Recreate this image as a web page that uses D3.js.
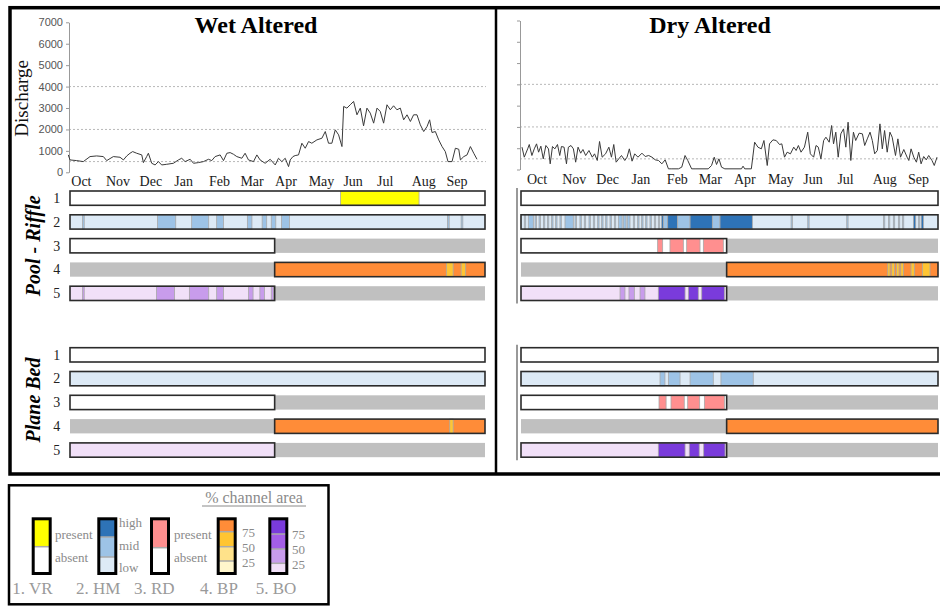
<!DOCTYPE html>
<html><head><meta charset="utf-8">
<script src="https://cdn.jsdelivr.net/npm/d3@7"></script>
<style>body{margin:0;background:#fff}svg{display:block}</style>
</head><body>
<svg id="c" width="940" height="606"></svg>
<script>
// ---------------- DATA ----------------
const months = ["Oct","Nov","Dec","Jan","Feb","Mar","Apr","May","Jun","Jul","Aug","Sep"];
const monthStart = [0,31,61,92,123,151,182,212,243,273,304,335];
const yTicks = [0,1000,2000,3000,4000,5000,6000,7000];
const gridValues = [500,2000,4000];
const panelTitles = ["Wet Altered","Dry Altered"];
const groupNames = ["Pool - Riffle","Plane Bed"];
const rowNumbers = ["1","2","3","4","5"];
const splitDay = 180;

// discharge: [day of water year, discharge]
const wetDischarge = [[0,811],[1.5,577],[7.5,546],[13.4,499],[19.4,733],[25.3,764],[31.3,733],[34.3,546],[40.2,733],[46.2,702],[49.2,577],[52.2,764],[55.1,889],[57.5,967],[61.1,889],[65.6,811],[67.1,452],[70,733],[71.5,889],[74.5,421],[77.5,343],[80.5,499],[83.4,343],[87.9,374],[93.9,421],[98.3,577],[101.3,655],[104.3,499],[108.8,608],[111.8,421],[116.2,452],[120.7,499],[125.2,608],[128.1,546],[131.1,733],[135.6,811],[138.6,546],[141.6,889],[144.5,920],[147.5,842],[150.5,733],[155,655],[157.9,889],[160.9,577],[165.4,499],[168.4,811],[171.3,577],[175.8,421],[180.3,608],[184.8,343],[187.7,655],[190.7,499],[193.7,655],[196.7,265],[198.2,577],[200.6,733],[202.6,780],[205.6,811],[208.6,1357],[211.6,1123],[214.6,1435],[217.5,1357],[222,1513],[226.5,1591],[229.5,1903],[232.4,1357],[235.4,1357],[238.4,1981],[241.4,1747],[244.4,1201],[245.9,3073],[248.8,2995],[251.8,3151],[254.8,3307],[257.8,2683],[260.8,2995],[263.7,2168],[266.7,2995],[269.7,2761],[272.7,2293],[275.7,2995],[278.6,2839],[281.6,2293],[284.6,3151],[287.6,2917],[290.5,3104],[293.5,2917],[296.5,2995],[299.5,2449],[302.5,2683],[305.5,2371],[308.4,2683],[311.4,2683],[314.4,2215],[317.4,1903],[320.4,2137],[322.7,2449],[324.8,1856],[327.8,1903],[330.8,1513],[333.8,1201],[336.7,967],[339.1,499],[342.7,499],[345.7,1123],[348.7,1076],[350.2,577],[353.2,733],[356.1,811],[359.1,1201],[362.1,889],[365,608]];

const dryDischarge = [[0,1049],[2,579],[5,970],[6.4,1174],[8.7,657],[10.8,970],[12.8,1205],[14.6,814],[16.6,1096],[18.7,501],[21,1127],[23.3,970],[24.8,266],[26.8,1080],[28.9,970],[31.2,1174],[33.2,657],[34.7,1080],[37,1049],[39.1,266],[40.8,1049],[43.1,1127],[45.2,970],[47.2,344],[49.3,1049],[51.6,767],[53.6,939],[56,657],[58.9,892],[61.8,579],[63.8,736],[66.2,423],[68.2,1315],[70.5,579],[73.5,736],[76.4,1049],[78.7,579],[80.7,1174],[82.8,344],[85.1,501],[87.5,657],[90.4,423],[92.4,579],[94.4,970],[96.8,391],[99.1,736],[102,579],[105.5,767],[108.4,610],[111.4,657],[114.3,579],[117.2,454],[120.1,423],[123,266],[125.9,454],[128.8,31],[131.8,31],[137.6,31],[140.5,110],[143.4,657],[145.8,423],[149.2,31],[152.2,31],[163.8,31],[166.7,188],[169.1,579],[171.1,235],[173.2,501],[175.5,110],[178.4,31],[193,31],[194.4,157],[195.9,31],[201.7,31],[204.6,1283],[207.5,1049],[210.5,970],[212.8,1362],[215.7,188],[217.7,1205],[220.7,1393],[223.6,1362],[226.5,1174],[228.5,1205],[230.9,579],[233.2,814],[236.1,736],[239,1049],[241.1,892],[243.1,1127],[245.4,814],[248.4,1049],[251.3,1753],[253.6,736],[256.5,579],[258.6,1127],[260.6,1049],[262.9,501],[265.3,1362],[267.3,1518],[270.2,1283],[272.3,2066],[274,1205],[276,1753],[278.1,579],[280.4,1675],[282.8,1909],[284.8,1049],[286.8,2222],[289.2,423],[291.5,1753],[293.5,1362],[296.5,1706],[299.4,1675],[301.4,1127],[303.7,1440],[306.1,1753],[308.1,1362],[310.2,736],[312.5,892],[314.8,2144],[316.9,970],[318.9,1831],[321.2,814],[323.6,1753],[325.6,1518],[328.5,657],[330.6,1440],[332.9,579],[335.8,939],[338.7,579],[340.2,423],[342.2,970],[344.6,579],[346.9,344],[348.9,814],[351,266],[353.3,610],[355.6,454],[357.7,657],[360.6,423],[362.6,188],[365,579]];

// bar segments: [startDay, endDay, level]
const wetPoolVR = [[238,307,1]];
const wetPoolHM = [[11,12.5,1],[77,93,1],[107,122,1],[129,135,1],[156,160,1],[169,173,1],[177,181,1],[186,193,1],[332,333.5,1],[344,345.5,1]];
const wetPoolRD = [];
const wetPoolBP = [[331,337,2],[344,348,2]];
const wetPoolBO = [[11,12.5,1],[76,92,1],[105,122,1],[129,135,1],[157,161,1],[167,171,1],[177,179,1]];
const wetPlaneVR = [];
const wetPlaneHM = [];
const wetPlaneRD = [];
const wetPlaneBP = [[334,337,2]];
const wetPlaneBO = [];
const dryPoolVR = [];
const dryPoolHM = [[2.9,4.1,1],[6.4,10.8,1],[12.3,13.5,1],[15.8,17,1],[19.6,20.8,1],[23.1,24.3,1],[26.8,28,1],[30.3,31.5,1],[34.1,35.3,1],[38.5,45.8,1],[47.3,48.5,1],[51.6,52.8,1],[55.4,56.6,1],[59.5,60.7,1],[63.3,64.5,1],[67.1,68.3,1],[70.6,71.8,1],[74.1,75.3,1],[77.9,79.1,1],[81.7,82.9,1],[85.2,88.5,1],[89.5,92,1],[93,95.4,1],[98.3,99.5,1],[102.1,103.3,1],[105.6,106.8,1],[109.1,110.3,1],[112.9,114.1,1],[116.7,117.9,1],[120.2,121.4,1],[123.1,124.6,2],[124.6,128.4,1],[128.4,137.1,2],[137.1,148,1],[148,167.5,2],[167.5,174.2,1],[174.2,202.5,2],[236.4,237.6,1],[251,252.2,1],[285.1,286.3,1],[317.2,318.4,1],[321.6,322.8,1],[325.9,327.1,1],[330.3,331.5,1],[333.8,335,1],[343.5,345.5,2],[347.8,349,1],[350.3,352.2,2]];
const dryPoolRD = [[119.6,124,1],[130.4,142.1,1],[145,156.7,1],[159.6,177.1,1]];
const dryPoolBP = [[321,323,2],[324.5,327,2],[328.6,330.9,2],[332.4,334.7,2],[341.4,344.3,2],[351.3,358,2]];
const dryPoolBO = [[86.7,91,1],[94.5,99.2,1],[104.2,108.5,1],[120.2,143.6,3],[146.5,155.2,3],[158.2,178,3]];
const dryPlaneVR = [];
const dryPlaneHM = [[121.7,126,1],[129,139.2,1],[148,168.3,1],[175,203.3,1]];
const dryPlaneRD = [[120.8,127,1],[131.3,142.9,1],[145.9,156.4,1],[160.5,178,1]];
const dryPlaneBP = [];
const dryPlaneBO = [[120.2,143.6,3],[147.3,156,3],[159.9,178.6,3]];

// variables: extent (days with data), base level, palette
const rowVars = ["VR","HM","RD","BP","BO"];
const rowExtents = [[0,365],[0,365],[0,splitDay],[splitDay,365],[0,splitDay]];
const rowBaseLevel = [0,0,0,3,0];
const palettes = [
  ["#ffffff","#ffff00"],
  ["#ddeaf6","#9dc3e6","#2e73b7"],
  ["#ffffff","#ff8f8f"],
  ["#fff6cc","#ffe28a","#ffc532","#ff8c38"],
  ["#f1e0f8","#c89cec","#a35ee6","#7a3bdb"]
];

// legend
const legendCodes = ["1. VR","2. HM","3. RD","4. BP","5. BO"];
const legendLabels = [["present","absent"],["high","mid","low"],["present","absent"],["75","50","25"],["75","50","25"]];
const legendHeader = "% channel area";

// ---------------- DRAW ----------------
const serif = "'Liberation Serif','Times New Roman',serif";
const sans = "'Liberation Sans',Arial,sans-serif";
const svg = d3.select("#c");

const panels = [
  {title:panelTitles[0], q:wetDischarge, groups:[[wetPoolVR,wetPoolHM,wetPoolRD,wetPoolBP,wetPoolBO],[wetPlaneVR,wetPlaneHM,wetPlaneRD,wetPlaneBP,wetPlaneBO]],
   hx:[68.3,477], hy:[172.3,22.3], axisX:69, gridEnd:486, bx:[70,485], monthY:186, monthOff:3, titleX:256, yLabels:true, rowNums:true, vline:false},
  {title:panelTitles[1], q:dryDischarge, groups:[[dryPoolVR,dryPoolHM,dryPoolRD,dryPoolBP,dryPoolBO],[dryPlaneVR,dryPlaneHM,dryPlaneRD,dryPlaneBP,dryPlaneBO]],
   hx:[522,937], hy:[169.5,20.5], axisX:520, gridEnd:938, bx:[521,938], monthY:184, monthOff:5, titleX:710, yLabels:false, rowNums:false, vline:true}
];
const groupTop = [191, 347.7];
const rowStep = 23.8, rowH = 14.3;

panels.forEach(p => {
  const x = d3.scaleLinear().domain([0,365]).range(p.hx);
  const y = d3.scaleLinear().domain([0,7000]).range(p.hy);
  const g = svg.append("g");
  g.selectAll("line.grid").data(gridValues).enter().append("line")
    .attr("x1",p.axisX).attr("x2",p.gridEnd).attr("y1",d=>y(d)).attr("y2",d=>y(d))
    .attr("stroke","#b8b8b8").attr("stroke-width",1).attr("stroke-dasharray","2,2");
  const ax = d3.axisLeft(y).tickValues(yTicks).tickSize(3).tickSizeOuter(0)
    .tickFormat(p.yLabels ? d3.format("d") : "");
  const ag = g.append("g").attr("transform",`translate(${p.axisX},0)`).call(ax);
  ag.select(".domain").attr("stroke","#999");
  ag.selectAll(".tick line").attr("stroke","#999");
  ag.selectAll(".tick text").attr("font-family",sans).attr("font-size",11).attr("fill","#555").attr("x",-6);
  g.append("path").datum(p.q).attr("fill","none").attr("stroke","#3a3a3a").attr("stroke-width",1)
    .attr("d", d3.line().x(d=>x(d[0])).y(d=>y(d[1])));
  g.selectAll("text.m").data(months).enter().append("text")
    .attr("x",(d,i)=>x(monthStart[i])+p.monthOff).attr("y",p.monthY)
    .attr("font-family",serif).attr("font-size",14).attr("fill","#1a1a1a").text(d=>d);
  g.append("text").attr("x",p.titleX).attr("y",33).attr("text-anchor","middle")
    .attr("font-family",serif).attr("font-weight","bold").attr("font-size",24).text(p.title);

  const bx = d3.scaleLinear().domain([0,365]).range(p.bx);
  p.groups.forEach((rows, gi) => {
    rows.forEach((segs, ri) => {
      const top = groupTop[gi] + ri*rowStep;
      const ext = rowExtents[ri];
      const pal = palettes[ri];
      const gaps = [];
      if (ext[0] > 0) gaps.push([0, ext[0]]);
      if (ext[1] < 365) gaps.push([ext[1], 365]);
      gaps.forEach(gp => g.append("rect").attr("x",bx(gp[0])).attr("y",top)
        .attr("width",bx(gp[1])-bx(gp[0])).attr("height",rowH).attr("fill","#c0c0c0"));
      g.append("rect").attr("x",bx(ext[0])).attr("y",top).attr("width",bx(ext[1])-bx(ext[0]))
        .attr("height",rowH).attr("fill",pal[rowBaseLevel[ri]]);
      g.selectAll(null).data(segs).enter().append("rect")
        .attr("x",d=>bx(d[0])).attr("y",top).attr("width",d=>bx(d[1])-bx(d[0])).attr("height",rowH)
        .attr("fill",d=>pal[d[2]]).attr("stroke","#a8a8a8").attr("stroke-width",0.8);
      g.append("rect").attr("x",bx(ext[0])).attr("y",top).attr("width",bx(ext[1])-bx(ext[0]))
        .attr("height",rowH).attr("fill","none").attr("stroke","#2b2b2b").attr("stroke-width",1.6);
      if (p.rowNums) {
        g.append("text").attr("x",56.7).attr("y",top+rowH/2+4.8).attr("text-anchor","middle")
          .attr("font-family",serif).attr("font-size",14).attr("fill","#222").text(rowNumbers[ri]);
      }
    });
    if (p.vline) {
      const t = groupTop[gi];
      g.append("line").attr("x1",517).attr("x2",517).attr("y1",t-3).attr("y2",t+4*rowStep+rowH+3)
        .attr("stroke","#555").attr("stroke-width",1.2);
    }
  });
});

[[245.8],[400]].forEach((c,i)=>{
  svg.append("text").attr("transform",`translate(40,${c[0]}) rotate(-90)`).attr("text-anchor","middle")
    .attr("font-family",serif).attr("font-style","italic").attr("font-weight","bold").attr("font-size",20)
    .text(groupNames[i]);
});
svg.append("text").attr("transform","translate(28,98.3) rotate(-90)").attr("text-anchor","middle")
  .attr("font-family",serif).attr("font-size",19).attr("fill","#111").text("Discharge");

svg.append("rect").attr("x",10).attr("y",7.7).attr("width",940).attr("height",466.3)
  .attr("fill","none").attr("stroke","#000").attr("stroke-width",3.5);
svg.append("line").attr("x1",496).attr("x2",496).attr("y1",8).attr("y2",474)
  .attr("stroke","#000").attr("stroke-width",2.5);

// ---------------- LEGEND ----------------
svg.append("rect").attr("x",9).attr("y",485.3).attr("width",319.5).attr("height",119)
  .attr("fill","none").attr("stroke","#000").attr("stroke-width",2.5);
svg.append("text").attr("x",254).attr("y",503).attr("text-anchor","middle")
  .attr("font-family",serif).attr("font-size",16).attr("fill","#8a8a8a").text(legendHeader);
svg.append("line").attr("x1",202).attr("x2",306).attr("y1",506).attr("y2",506).attr("stroke","#8a8a8a").attr("stroke-width",1);

const legX = [33.2, 98.8, 151.5, 218.2, 269.8];
const legW = 17;
const legTop = 518.8, legBot = 573.5;
const legBounds = [
  [legTop,546.7,legBot],
  [legTop,537,557,legBot],
  [legTop,547.7,legBot],
  [legTop,531.7,546.7,561,legBot],
  [legTop,534,549,563.3,legBot]
];
const legLabelX = [55, 119, 174, 242, 292];
const legLabelY = [[538.5,561.7],[526.7,550,572.3],[538.5,561.7],[536.7,552.3,567.3],[539,554,569]];
const legCodeX = [32.5, 98.3, 154.2, 219, 276];

legendCodes.forEach((code,i)=>{
  const pal = palettes[i];
  const b = legBounds[i];
  const nseg = b.length-1;
  for (let k=0;k<nseg;k++){
    const lvl = pal.length-1-k;
    svg.append("rect").attr("x",legX[i]).attr("y",b[k]).attr("width",legW).attr("height",b[k+1]-b[k])
      .attr("fill",pal[lvl]);
    if (k>0) svg.append("line").attr("x1",legX[i]).attr("x2",legX[i]+legW).attr("y1",b[k]).attr("y2",b[k])
      .attr("stroke","#aaa").attr("stroke-width",1.5);
  }
  svg.append("rect").attr("x",legX[i]).attr("y",legTop).attr("width",legW).attr("height",legBot-legTop)
    .attr("fill","none").attr("stroke","#000").attr("stroke-width",3);
  legendLabels[i].forEach((t,k)=>{
    svg.append("text").attr("x",legLabelX[i]).attr("y",legLabelY[i][k])
      .attr("font-family",serif).attr("font-size",13).attr("fill","#8a8a8a").text(t);
  });
  svg.append("text").attr("x",legCodeX[i]).attr("y",594).attr("text-anchor","middle")
    .attr("font-family",serif).attr("font-size",17).attr("fill","#9a9a9a").text(code);
});
</script>
</body></html>
